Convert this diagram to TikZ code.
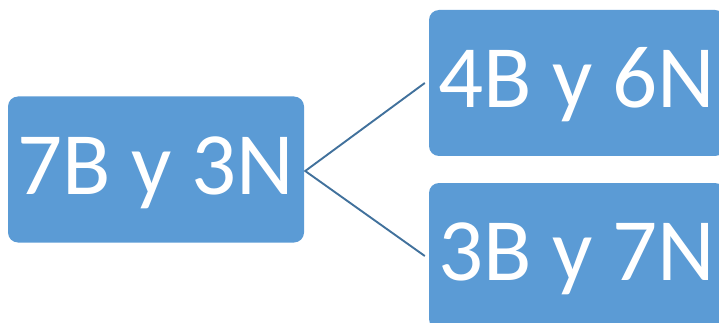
\documentclass[tikz,border=0pt]{standalone}
\usepackage{fontspec}
\setmainfont{Carlito}
\definecolor{boxblue}{HTML}{5B9BD5}
\definecolor{lineblue}{HTML}{41719C}
\tikzset{
  bluebox/.style={fill=boxblue, draw=none, rounded corners=10pt,
    minimum width=296pt, minimum height=146pt, inner sep=0pt,
    text=white, font=\fontsize{89}{94}\selectfont,
    text height=63pt, text depth=14pt},
  conn/.style={draw=lineblue, line width=1.9pt}
}
\begin{document}
\begin{tikzpicture}[x=1pt,y=-1pt]
\useasboundingbox (0,0) rectangle (719,323);
\clip (0,0) rectangle (719,323);
\node[bluebox] (a) at (156,169.5) {7B y 3N};
\node[bluebox] (c) at (577,83) {4B y 6N};
\node[bluebox] (d) at (577,256) {3B y 7N};
\coordinate (l) at ([xshift=1pt,yshift=-1.5pt]a.east);
\draw[conn] ([xshift=-4pt]c.west) -- (l) -- ([xshift=-4pt]d.west);
\end{tikzpicture}
\end{document}
